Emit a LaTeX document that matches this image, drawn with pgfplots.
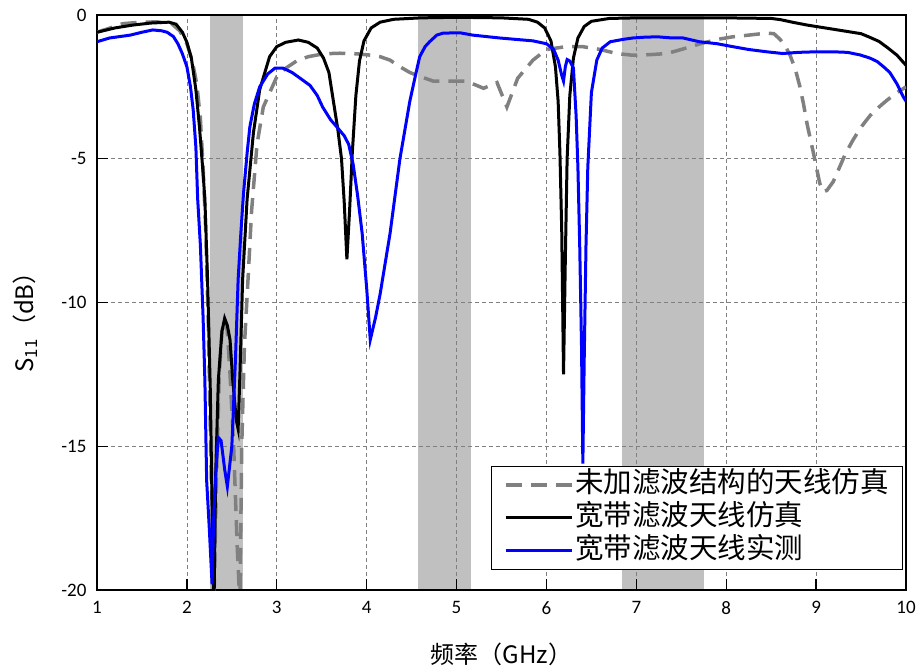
\documentclass[border=0pt]{standalone}
\usepackage{fontspec}
\setmainfont{Carlito}
\newfontfamily\cjk{Noto Sans CJK SC}
\usepackage{pgfplots}
\pgfplotsset{compat=1.18}
\usetikzlibrary{calc}
\definecolor{bandgray}{RGB}{192,192,192}
\definecolor{dashgray}{RGB}{128,128,128}
\begin{document}
\begin{tikzpicture}
\begin{axis}[
 set layers,
 width=809pt, height=575pt, scale only axis,
 xmin=1, xmax=10, ymin=-20, ymax=0,
 xtick={1,2,...,10}, ytick={-20,-15,-10,-5,0},
 xtick pos=bottom, ytick pos=left, tick align=inside,
 major tick length=11pt,
 tick style={black, line width=1.3pt},
 axis line style={black, line width=1.3pt},
 grid=major,
 major grid style={dashgray, line width=0.7pt, dash pattern=on 4pt off 3pt},
 /pgf/number format/assume math mode=true,
 ticklabel style={font=\fontsize{19}{22}\selectfont},
 xticklabel style={yshift=-8pt},
 yticklabel style={xshift=-7pt},
 xlabel={\cjk 频率（GHz）},
 ylabel={\cjk S\textsubscript{11}（dB）},
 label style={font=\fontsize{24}{28}\selectfont},
 xlabel style={at={(axis description cs:0.5,-0.127)}, anchor=base},
 ylabel style={at={(axis description cs:-0.078,0.476)}, anchor=base},
 legend style={at={(rel axis cs:0.9965,0.035)}, anchor=south east, draw=black, line width=0.8pt, fill=white,
   font=\cjk\fontsize{28.5}{33}\selectfont, inner xsep=12pt, inner ysep=2pt, row sep=0pt,
   nodes={inner sep=2pt, text height=22pt, text depth=7pt}},
 legend cell align=left,
 legend image code/.code={\draw[#1] (0pt,0pt) -- (66pt,0pt);},
]
% shaded bands
\addplot[fill=bandgray, draw=none, forget plot, on layer=axis background] coordinates {(2.26,-20) (2.62,-20) (2.62,0) (2.26,0)} -- cycle;
\addplot[fill=bandgray, draw=none, forget plot, on layer=axis background] coordinates {(4.575,-20) (5.157,-20) (5.157,0) (4.575,0)} -- cycle;
\addplot[fill=bandgray, draw=none, forget plot, on layer=axis background] coordinates {(6.84,-20) (7.75,-20) (7.75,0) (6.84,0)} -- cycle;

% antenna without filter structure (simulation)
\addplot[dashgray, line width=3.5pt, dash pattern=on 16pt off 9pt] coordinates {
(1.0,-0.6) (1.15,-0.45) (1.29,-0.3) (1.5,-0.25) (1.67,-0.24) (1.83,-0.3) (1.92,-0.55) (2.0,-1.0) (2.06,-1.6) (2.11,-2.4) (2.15,-3.6) (2.18,-5.3) (2.21,-7.5) (2.24,-11) (2.27,-16) (2.3,-20.5) (2.33,-16) (2.36,-12.5) (2.39,-11) (2.42,-10.6) (2.45,-11) (2.48,-12.5) (2.52,-15) (2.56,-18.5) (2.59,-20.5) (2.61,-15) (2.64,-11.5) (2.68,-9.2) (2.72,-6.8) (2.78,-4.5) (2.85,-3.2) (3.0,-2.15) (3.1,-1.85) (3.22,-1.6) (3.35,-1.45) (3.52,-1.35) (3.7,-1.33) (3.89,-1.35) (4.05,-1.4) (4.15,-1.45) (4.26,-1.57) (4.37,-1.8) (4.48,-2.0) (4.56,-2.1) (4.74,-2.3) (5.11,-2.3) (5.3,-2.55) (5.45,-2.35) (5.56,-3.2) (5.68,-2.2) (5.85,-1.57) (6.0,-1.2) (6.22,-1.1) (6.4,-1.1) (6.6,-1.2) (6.78,-1.34) (6.96,-1.4) (7.15,-1.38) (7.34,-1.34) (7.5,-1.2) (7.71,-1.0) (7.9,-0.85) (8.07,-0.76) (8.25,-0.7) (8.45,-0.63) (8.53,-0.65) (8.6,-0.85) (8.66,-1.1) (8.71,-1.4) (8.77,-1.9) (8.82,-2.5) (8.86,-3.1) (8.9,-3.8) (8.97,-4.8) (9.04,-5.85) (9.08,-6.15) (9.12,-6.1) (9.19,-5.8) (9.26,-5.3) (9.33,-4.8) (9.41,-4.35) (9.5,-3.9) (9.6,-3.5) (9.7,-3.2) (9.79,-2.96) (9.9,-2.7) (10.0,-2.5)
};
\addlegendentry{未加滤波结构的天线仿真}

% wideband filtering antenna (simulation)
\addplot[black, line width=3pt] coordinates {
(1.0,-0.6) (1.2,-0.45) (1.4,-0.35) (1.6,-0.28) (1.8,-0.25) (1.88,-0.32) (1.95,-0.6) (2.0,-0.95) (2.05,-1.5) (2.1,-2.6) (2.14,-3.9) (2.18,-5.5) (2.2,-6.4) (2.23,-9.2) (2.26,-13) (2.28,-17) (2.3,-21) (2.32,-16) (2.35,-12.7) (2.39,-11) (2.42,-10.55) (2.45,-10.8) (2.48,-11.3) (2.51,-12.7) (2.55,-14.1) (2.57,-14.4) (2.59,-12.5) (2.62,-9.2) (2.67,-6.4) (2.74,-4.1) (2.81,-2.6) (2.92,-1.45) (3.0,-1.1) (3.1,-0.95) (3.24,-0.87) (3.35,-0.95) (3.45,-1.15) (3.52,-1.5) (3.58,-2.0) (3.63,-3.0) (3.68,-4.0) (3.72,-5.0) (3.75,-6.5) (3.78,-8.5) (3.81,-6.8) (3.84,-4.8) (3.88,-2.8) (3.92,-1.6) (3.97,-0.9) (4.05,-0.45) (4.15,-0.25) (4.3,-0.15) (4.6,-0.1) (5.0,-0.08) (5.5,-0.1) (5.8,-0.15) (5.9,-0.25) (5.98,-0.45) (6.05,-0.9) (6.1,-1.8) (6.13,-3.0) (6.15,-4.8) (6.17,-7.5) (6.19,-12.5) (6.21,-8.5) (6.23,-5) (6.26,-2.8) (6.3,-1.5) (6.35,-0.8) (6.42,-0.4) (6.5,-0.22) (6.7,-0.12) (7.0,-0.1) (8.0,-0.1) (8.5,-0.12) (8.6,-0.16) (8.75,-0.26) (8.9,-0.35) (9.1,-0.45) (9.3,-0.55) (9.5,-0.65) (9.6,-0.78) (9.7,-0.92) (9.8,-1.15) (9.9,-1.4) (10.0,-1.75)
};
\addlegendentry{宽带滤波天线仿真}

% wideband filtering antenna (measured)
\addplot[blue, line width=3pt] coordinates {
(1.0,-0.93) (1.14,-0.8) (1.37,-0.7) (1.5,-0.6) (1.62,-0.52) (1.72,-0.55) (1.78,-0.6) (1.85,-0.75) (1.9,-1.0) (1.95,-1.35) (2.0,-1.8) (2.04,-2.5) (2.07,-3.3) (2.1,-4.6) (2.12,-6.4) (2.15,-8) (2.18,-10.5) (2.2,-12.7) (2.22,-16.2) (2.25,-17.9) (2.28,-19.8) (2.3,-17.3) (2.33,-15.5) (2.35,-14.7) (2.38,-14.8) (2.42,-15.8) (2.45,-16.4) (2.5,-15) (2.54,-12) (2.57,-9.2) (2.6,-7.6) (2.63,-6.2) (2.67,-4.8) (2.7,-3.9) (2.75,-3.1) (2.81,-2.5) (2.9,-2.05) (2.98,-1.85) (3.07,-1.85) (3.17,-2.0) (3.26,-2.2) (3.37,-2.45) (3.45,-2.8) (3.51,-3.2) (3.6,-3.65) (3.67,-3.9) (3.75,-4.2) (3.8,-4.5) (3.85,-5.2) (3.9,-6.3) (3.95,-7.6) (4.0,-9.5) (4.04,-11.3) (4.1,-10.5) (4.15,-9.7) (4.26,-7.6) (4.37,-5.0) (4.48,-3.0) (4.55,-2.0) (4.59,-1.45) (4.65,-1.1) (4.7,-0.93) (4.78,-0.7) (4.85,-0.63) (5.04,-0.62) (5.18,-0.7) (5.48,-0.8) (5.85,-0.9) (6.0,-1.0) (6.08,-1.2) (6.13,-1.57) (6.17,-2.1) (6.19,-2.3) (6.21,-1.8) (6.23,-1.55) (6.26,-1.6) (6.3,-1.85) (6.33,-3.5) (6.35,-5.3) (6.37,-8) (6.39,-11.5) (6.405,-15.6) (6.42,-12) (6.44,-8) (6.46,-5.3) (6.5,-2.7) (6.56,-1.57) (6.62,-1.15) (6.71,-0.93) (6.85,-0.85) (6.96,-0.8) (7.1,-0.77) (7.24,-0.76) (7.4,-0.8) (7.52,-0.8) (7.7,-0.93) (7.9,-1.0) (8.07,-1.1) (8.25,-1.2) (8.45,-1.28) (8.63,-1.34) (8.8,-1.3) (9.0,-1.28) (9.19,-1.28) (9.35,-1.3) (9.49,-1.39) (9.6,-1.5) (9.68,-1.62) (9.75,-1.8) (9.82,-2.0) (9.9,-2.4) (9.97,-2.85) (10.0,-3.0)
};
\addlegendentry{宽带滤波天线实测}
\end{axis}
\pgfresetboundingbox
\path[use as bounding box] ($(current axis.south west)+(-97pt,-81pt)$) rectangle ($(current axis.north east)+(14pt,15pt)$);
\end{tikzpicture}
\end{document}
